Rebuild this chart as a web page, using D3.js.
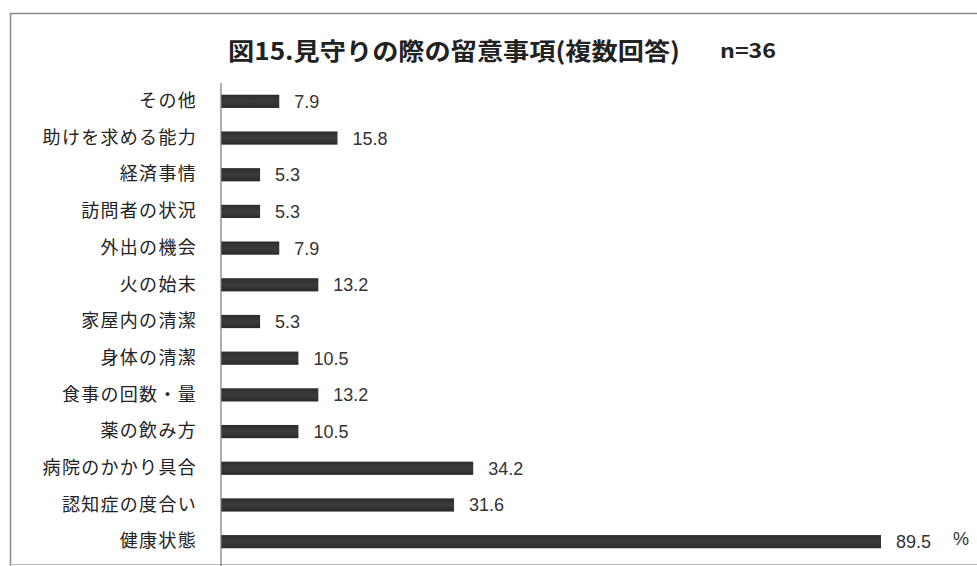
<!DOCTYPE html>
<html><head><meta charset="utf-8">
<script src="https://cdn.jsdelivr.net/npm/d3@7/dist/d3.min.js"></script>
<style>
html,body{margin:0;padding:0;background:#fff;}
svg{display:block;}
</style></head>
<body>
<svg id="chart" width="977" height="566"></svg>
<script>
// 見守りの際の留意事項（複数回答）n=36, 単位: %
const categories = ["その他","助けを求める能力","経済事情","訪問者の状況","外出の機会","火の始末","家屋内の清潔","身体の清潔","食事の回数・量","薬の飲み方","病院のかかり具合","認知症の度合い","健康状態"];
const values = [7.9, 15.8, 5.3, 5.3, 7.9, 13.2, 5.3, 10.5, 13.2, 10.5, 34.2, 31.6, 89.5];
const titleText = "図15.見守りの際の留意事項(複数回答)";
const sampleText = "n=36";
const unitText = "%";

const svg = d3.select("#chart");
const W = 977, H = 566;
const font = "'Noto Sans CJK JP','Noto Sans',sans-serif";
const numFont = "'Liberation Sans Narrow','Liberation Sans',Arial,sans-serif";

// frame
svg.append("path")
  .attr("d", `M10.5,${H} V13.5 H${W}`)
  .attr("fill","none").attr("stroke","#8a8a8a").attr("stroke-width",1.5);
svg.append("line").attr("x1",10).attr("x2",W).attr("y1",564.5).attr("y2",564.5)
  .attr("stroke","#bbb").attr("stroke-width",1);

const x = d3.scaleLinear().domain([0, 89.5]).range([221, 881]);
const y = d3.scaleBand().domain(categories).range([83, 560]).paddingInner(0.64).paddingOuter(0.32);

// title
svg.append("text").attr("x", 228).attr("y", 60)
  .attr("font-family", font).attr("font-weight","bold").attr("font-size",24)
  .attr("textLength", 452).attr("lengthAdjust","spacingAndGlyphs")
  .attr("fill","#222").text(titleText);
svg.append("text").attr("x", 720).attr("y", 58)
  .attr("font-family", font).attr("font-weight","bold").attr("font-size",20)
  .attr("textLength", 56).attr("lengthAdjust","spacingAndGlyphs")
  .attr("fill","#222").text(sampleText);

// bars
const grad = svg.append("defs").append("linearGradient").attr("id","barGrad")
  .attr("x1",0).attr("x2",0).attr("y1",0).attr("y2",1);
grad.append("stop").attr("offset","0%").attr("stop-color","#2c2c2c");
grad.append("stop").attr("offset","50%").attr("stop-color","#3c3c3c");
grad.append("stop").attr("offset","100%").attr("stop-color","#2a2a2a");

svg.append("g").selectAll("rect").data(values).join("rect")
  .attr("x", x(0))
  .attr("y", (d,i) => y(categories[i]))
  .attr("width", d => x(d) - x(0))
  .attr("height", y.bandwidth())
  .attr("fill","url(#barGrad)");

// category axis
const axis = d3.axisLeft(y).tickSize(0).tickPadding(24);
const gAxis = svg.append("g").attr("transform", `translate(${x(0)},0)`).call(axis);
gAxis.select(".domain").remove();
gAxis.selectAll("text").attr("font-family", font).attr("font-size",18)
  .attr("letter-spacing", "1.3px").attr("fill","#222");
svg.append("line").attr("x1",x(0)).attr("x2",x(0)).attr("y1",83).attr("y2",H)
  .attr("stroke","#777").attr("stroke-width",1.2);

// value labels
svg.append("g").selectAll("text").data(values).join("text")
  .attr("x", d => x(d) + 15)
  .attr("y", (d,i) => y(categories[i]) + y.bandwidth()/2)
  .attr("dy","0.36em")
  .attr("font-family", numFont).attr("font-size",18).attr("fill","#333")
  .text(d => d.toFixed(1));

// unit
svg.append("text").attr("x", 953).attr("y", 545)
  .attr("font-family", numFont).attr("font-size",18).attr("fill","#333").text(unitText);
</script>
</body></html>
